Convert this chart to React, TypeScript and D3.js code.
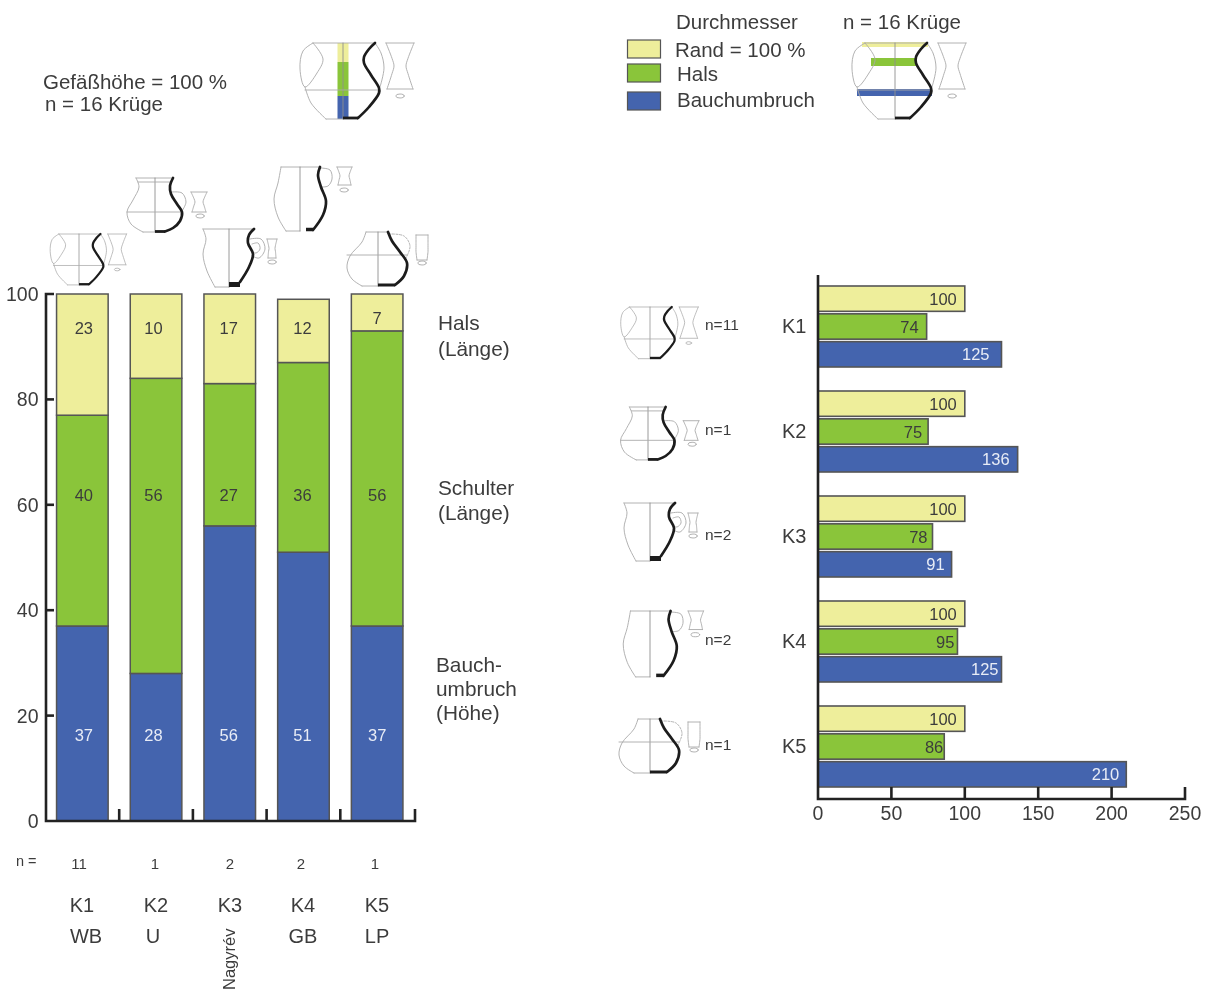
import React from "react";
import * as d3 from "d3";

const FONT = "'Liberation Sans', Arial, sans-serif";
const INK = "#3c3c3c";
const AXIS = "#222";
const EDGE = "#555";
const YELLOW = "#EEEE9B";
const GREEN = "#8AC53A";
const BLUE = "#4464AE";
const FAINT = "#a9a9a9";

const categories = ["K1", "K2", "K3", "K4", "K5"];
const cultures = ["WB", "U", "Nagyrév", "GB", "LP"];
const counts = [11, 1, 2, 2, 1];

// left chart: share of vessel height (K2's drawn segment reaches 100 while its printed label reads 10)
const halsLaenge = [23, 16, 17, 12, 7];
const halsLabels = [23, 10, 17, 12, 7];
const schulterLaenge = [40, 56, 27, 36, 56];
const bauchHoehe = [37, 28, 56, 51, 37];
const leftTicks = [0, 20, 40, 60, 80, 100];

// right chart: diameter relative to rim
const randD = [100, 100, 100, 100, 100];
const halsD = [74, 75, 78, 95, 86];
const bauchD = [125, 136, 91, 125, 210];
const rightTicks = [0, 50, 100, 150, 200, 250];

type P = [number, number];
type Jug = {
  h: number;
  topL: number;
  right: P[];
  left: P[];
  belly: number | null;
  rim: [number, number, number] | null;
  handle: P[];
  handle2?: P[];
  sec: [number, number, number, number, number];
  ell: P;
  base: P[];
  baseW: number;
  dashed?: boolean;
};

const jugK1: Jug = {
  h: 76,
  topL: -30,
  right: [[32, 0], [26, 6], [21, 14], [21, 20], [28, 32], [36, 45], [36, 50], [26, 64], [15, 75]],
  left: [[-38, 44], [-32, 60], [-17, 76]],
  belly: 47,
  rim: null,
  handle: [[32, 0], [38, 10], [41, 25], [37, 44]],
  handle2: [[-30, 0], [-40, 8], [-43, 26], [-38, 44], [-26, 30], [-20, 16], [-30, 0]],
  sec: [43, 71, 0, 46, 8],
  ell: [57, 53],
  base: [[15, 75], [0, 75]],
  baseW: 2.8,
};
const jugK2: Jug = {
  h: 54,
  topL: -19,
  right: [[18, 0], [15, 8], [16, 16], [22, 26], [27, 34], [25, 43], [18, 50], [10, 53.5]],
  left: [[-19, 0], [-16, 9], [-22, 22], [-28, 34], [-24, 46], [-12, 54]],
  belly: 34,
  rim: [-17, 16, 4],
  handle: [[17, 14], [27, 15], [31, 24], [27, 33]],
  sec: [36, 52, 14, 34, 4],
  ell: [45, 38],
  base: [[10, 53.5], [0, 53.5]],
  baseW: 2.8,
};
const jugK3: Jug = {
  h: 58,
  topL: -26,
  right: [[25, 0], [20, 6], [19, 14], [24, 25], [20, 38], [11, 53]],
  left: [[-26, 0], [-23, 10], [-26, 25], [-22, 42], [-14, 58]],
  belly: null,
  rim: null,
  handle: [[21, 10], [32, 10], [36, 20], [30, 29], [23, 27]],
  handle2: [[23, 15], [29, 14], [31, 20], [27, 24], [23, 23]],
  sec: [38, 48, 10, 29, 2],
  ell: [43, 33],
  base: [[11, 55.5], [0, 55.5]],
  baseW: 5,
};
const jugK4: Jug = {
  h: 64,
  topL: -19,
  right: [[20, 0], [18, 8], [21, 20], [26, 34], [23, 48], [13, 63]],
  left: [[-19, 0], [-22, 16], [-26, 32], [-22, 50], [-14, 64]],
  belly: null,
  rim: null,
  handle: [[20, 1], [30, 3], [32, 12], [28, 19], [21, 20]],
  sec: [37, 52, 0, 18, 3],
  ell: [44, 23],
  base: [[13, 62.5], [6, 62.5]],
  baseW: 3.5,
};
const jugK5: Jug = {
  h: 54,
  topL: -12,
  right: [[10, 0], [14, 9], [22, 20], [29, 31], [26, 44], [17, 53]],
  left: [[-12, 0], [-16, 10], [-28, 24], [-31, 36], [-26, 47], [-16, 54]],
  belly: 23,
  rim: null,
  handle: [[11, 2], [26, 4], [32, 14], [28, 26]],
  sec: [38, 50, 3, 28, 0],
  ell: [44, 31],
  base: [[17, 53], [0, 53]],
  baseW: 3,
  dashed: true,
};
const jugs = [jugK1, jugK2, jugK3, jugK4, jugK5];

// placement of the small vessel drawings
const topJugX = [79, 155, 229, 300, 378];
const topJugY = [234, 178, 229, 167, 232];
const topJugS = [0.67, 1, 1, 1, 1];
const sideJugX = [650, 648, 650, 650, 650];
const sideJugY = [307, 407, 503, 611, 719];
const sideJugS = [0.68, 0.98, 1, 1.03, 1.0];

const smooth = d3.line<P>().curve(d3.curveCatmullRom.alpha(0.5));

function JugDrawing({ jug, x, y, s, bands }: { jug: Jug; x: number; y: number; s: number; bands?: React.ReactNode }) {
  const thin = 0.9 / Math.max(s, 0.8);
  const thick = 2.7 / Math.max(s, 0.8);
  const [sx0, sx1, sy0, sy1, wa] = jug.sec;
  const secL: P[] = [[sx0, sy0], [sx0 + wa * 0.75, (sy0 * 2 + sy1) / 3], [sx0 + wa, (sy0 + sy1) / 2], [sx0 + wa * 0.75, (sy0 + sy1 * 2) / 3], [sx0 + 1, sy1]];
  const secR: P[] = secL.map(([a, b]) => [sx1 - (a - sx0), b] as P);
  return (
    <g transform={`translate(${x},${y}) scale(${s})`} fill="none" strokeLinecap="round" strokeLinejoin="round">
      {bands}
      <g stroke={FAINT} strokeWidth={thin}>
        <path d={smooth(jug.left) ?? ""} />
        <path d={smooth(jug.handle) ?? ""} strokeDasharray={jug.dashed ? "2 1.5" : undefined} />
        {jug.handle2 && <path d={smooth(jug.handle2) ?? ""} />}
        <line x1={jug.topL} x2={jug.right[0][0]} y1={0} y2={0} />
        <line x1={jug.left[jug.left.length - 1][0]} x2={0} y1={jug.h} y2={jug.h} />
        <line x1={0} x2={0} y1={0} y2={jug.h} stroke="#8f8f8f" />
        {jug.belly !== null && <line x1={jug.left.reduce((m, p) => Math.min(m, p[0]), 0)} x2={jug.right.reduce((m, p) => Math.max(m, p[0]), 0)} y1={jug.belly} y2={jug.belly} />}
        {jug.rim && <line x1={jug.rim[0]} x2={jug.rim[1]} y1={jug.rim[2]} y2={jug.rim[2]} />}
        <path d={smooth(secL) ?? ""} />
        <path d={smooth(secR) ?? ""} />
        <line x1={sx0} x2={sx1} y1={sy0} y2={sy0} />
        <line x1={sx0 + 1} x2={sx1 - 1} y1={sy1} y2={sy1} />
        <ellipse cx={jug.ell[0]} cy={jug.ell[1]} rx={4.2} ry={2} />
      </g>
      <path d={smooth(jug.right) ?? ""} stroke="#1c1c1c" strokeWidth={thick} />
      <path d={d3.line<P>()(jug.base) ?? ""} stroke="#1c1c1c" strokeWidth={(jug.baseW * thick) / 2.7} strokeLinecap="butt" />
    </g>
  );
}

// left chart scales
const yLeft = d3.scaleLinear().domain([0, 100]).range([821, 294]);
const xLeft = d3.scaleBand<string>().domain(categories).range([45.5, 414]).paddingInner(0.3).paddingOuter(0.15);
const leftStack = d3
  .stack<number>()
  .keys(["bauch", "schulter", "hals"])
  .value((i, key) => (key === "bauch" ? bauchHoehe[i] : key === "schulter" ? schulterLaenge[i] : halsLaenge[i]))(categories.map((_, i) => i));
const stackLabels = [bauchHoehe, schulterLaenge, halsLabels];
const stackColors = [BLUE, GREEN, YELLOW];
const stackText = ["#e8ecf6", INK, INK];
const labelRows = [16.3, 61.9, 93.6];
const labelDx = [1.5, -2.5, -1, -1, 0];
const countX = [79, 155, 230, 301, 375];
const kX = [82, 156, 230, 303, 377];
const cultureX = [86, 153, 229, 303, 377];

// right chart scales
const xRight = d3.scaleLinear().domain([0, 250]).range([818, 1185]);
const yGroup = d3.scaleBand<string>().domain(categories).range([286, 787]).paddingInner(24 / 105).paddingOuter(0).align(0);
const yInner = d3.scaleBand<number>().domain([0, 1, 2]).range([0, yGroup.bandwidth()]).paddingInner(0.09);
const rightSeries = [randD, halsD, bauchD];
const rightColors = [YELLOW, GREEN, BLUE];
const rightText = [INK, INK, "#e8ecf6"];
const rightInset = [
  [8, 8, 8, 8, 8],
  [8, 6, 5, 3, 1],
  [12, 8, 7, 3, 7],
];

const legendItems = [
  { label: "Rand = 100 %", color: YELLOW, y: 40, tx: 675, ty: 49 },
  { label: "Hals", color: GREEN, y: 64, tx: 677, ty: 73 },
  { label: "Bauchumbruch", color: BLUE, y: 92, tx: 677, ty: 99 },
];

const sideLabels = [
  { lines: ["Hals", "(Länge)"], x: 438, y: [322, 348] },
  { lines: ["Schulter", "(Länge)"], x: 438, y: [487, 512] },
  { lines: ["Bauch-", "umbruch", "(Höhe)"], x: 436, y: [664, 688, 712] },
];

function T({ x, y, size = 20.5, anchor = "start", fill = INK, children, transform }: any) {
  return (
    <text x={x} y={y} fontSize={size} textAnchor={anchor} fill={fill} dominantBaseline="central" transform={transform}>
      {children}
    </text>
  );
}

export default function App() {
  return (
    <svg width={1205} height={990} viewBox="0 0 1205 990" style={{ position: "absolute", left: 0, top: 0, background: "#fff", fontFamily: FONT, filter: "blur(0.4px)" }}>
      {/* header left */}
      <T x={43} y={81}>Gefäßhöhe = 100 %</T>
      <T x={45} y={103}>n = 16 Krüge</T>
      <JugDrawing
        jug={jugK1}
        x={343}
        y={43}
        s={1}
        bands={
          <g stroke="none">
            <rect x={-5.5} width={11} y={0} height={19} fill={YELLOW} />
            <rect x={-5.5} width={11} y={19} height={34} fill={GREEN} />
            <rect x={-5.5} width={11} y={53} height={23} fill={BLUE} />
          </g>
        }
      />

      {/* legend */}
      <T x={676} y={21}>Durchmesser</T>
      <T x={843} y={21}>n = 16 Krüge</T>
      {legendItems.map((d) => (
        <g key={d.label}>
          <rect x={627.5} y={d.y} width={33} height={18} fill={d.color} stroke={EDGE} strokeWidth={1.2} />
          <T x={d.tx} y={d.ty}>{d.label}</T>
        </g>
      ))}
      <JugDrawing
        jug={jugK1}
        x={895}
        y={43}
        s={1}
        bands={
          <g stroke="none">
            <rect x={-33} width={66} y={-1} height={5} fill={YELLOW} />
            <rect x={-24} width={46} y={15} height={8} fill={GREEN} />
            <rect x={-38} width={75} y={46} height={7} fill={BLUE} />
          </g>
        }
      />

      {/* left chart */}
      {categories.map((c, i) => (
        <JugDrawing key={c} jug={jugs[i]} x={topJugX[i]} y={topJugY[i]} s={topJugS[i]} />
      ))}
      {leftStack.map((layer, li) => (
        <g key={layer.key}>
          {layer.map((seg, i) => (
            <g key={i}>
              <rect
                x={xLeft(categories[i])}
                width={xLeft.bandwidth()}
                y={yLeft(seg[1])}
                height={yLeft(seg[0]) - yLeft(seg[1])}
                fill={stackColors[li]}
                stroke={EDGE}
                strokeWidth={1.5}
              />
              <T
                x={(xLeft(categories[i]) ?? 0) + xLeft.bandwidth() / 2 + labelDx[i]}
                y={yLeft(labelRows[li]) - (li === 2 && i === 4 ? 10 : 0)}
                size={16.5}
                anchor="middle"
                fill={stackText[li]}
              >
                {stackLabels[li][i]}
              </T>
            </g>
          ))}
        </g>
      ))}
      <g stroke={AXIS} strokeWidth={2.6} fill="none">
        <path d={`M${54},${yLeft(100)}H${46}V${yLeft(0)}H${415}V${yLeft(0) - 12}`} />
        {leftTicks.slice(1, -1).map((t) => (
          <line key={t} x1={46} x2={54} y1={yLeft(t)} y2={yLeft(t)} />
        ))}
        {categories.slice(0, -1).map((c) => {
          const sx = (xLeft(c) ?? 0) + xLeft.step() - (xLeft.step() - xLeft.bandwidth()) / 2;
          return <line key={c} x1={sx} x2={sx} y1={yLeft(0)} y2={yLeft(0) - 12} />;
        })}
      </g>
      {leftTicks.map((t) => (
        <T key={t} x={38.5} y={yLeft(t)} size={19.5} anchor="end">{t}</T>
      ))}
      {sideLabels.map((g) =>
        g.lines.map((l, i) => (
          <T key={l + g.x + g.y[i]} x={g.x} y={g.y[i]} size={20.8}>{l}</T>
        ))
      )}
      <T x={16} y={861} size={14.5}>n =</T>
      {categories.map((c, i) => (
        <g key={c}>
          <T x={countX[i]} y={863} size={15} anchor="middle">{counts[i]}</T>
          <T x={kX[i]} y={905} size={20} anchor="middle">{c}</T>
          {cultures[i].length > 2 ? (
            <T x={0} y={0} size={16.5} anchor="start" transform={`translate(${cultureX[i]},990) rotate(-90)`}>{cultures[i]}</T>
          ) : (
            <T x={cultureX[i]} y={936} size={20} anchor="middle">{cultures[i]}</T>
          )}
        </g>
      ))}

      {/* right chart */}
      {categories.map((c, i) => (
        <g key={c}>
          <JugDrawing jug={jugs[i]} x={sideJugX[i]} y={sideJugY[i]} s={sideJugS[i]} />
          <T x={705} y={(yGroup(c) ?? 0) + 38} size={15.5}>{"n=" + counts[i]}</T>
          <T x={782} y={(yGroup(c) ?? 0) + 40} size={20}>{c}</T>
          {rightSeries.map((vals, si) => (
            <g key={si}>
              <rect
                x={xRight(0)}
                width={xRight(vals[i]) - xRight(0)}
                y={(yGroup(c) ?? 0) + (yInner(si) ?? 0)}
                height={yInner.bandwidth()}
                fill={rightColors[si]}
                stroke={EDGE}
                strokeWidth={1.6}
              />
              <T
                x={xRight(vals[i]) - rightInset[si][i]}
                y={(yGroup(c) ?? 0) + (yInner(si) ?? 0) + yInner.bandwidth() / 2}
                size={16.5}
                anchor="end"
                fill={rightText[si]}
              >
                {vals[i]}
              </T>
            </g>
          ))}
        </g>
      ))}
      <g stroke={AXIS} strokeWidth={2.6} fill="none">
        <path d={`M${xRight(0)},275V${799}H${xRight(250)}V${787}`} />
        {rightTicks.slice(1, -1).map((t) => (
          <line key={t} x1={xRight(t)} x2={xRight(t)} y1={799} y2={787} />
        ))}
      </g>
      {rightTicks.map((t) => (
        <T key={t} x={xRight(t)} y={813} size={19.5} anchor="middle">{t}</T>
      ))}
    </svg>
  );
}
